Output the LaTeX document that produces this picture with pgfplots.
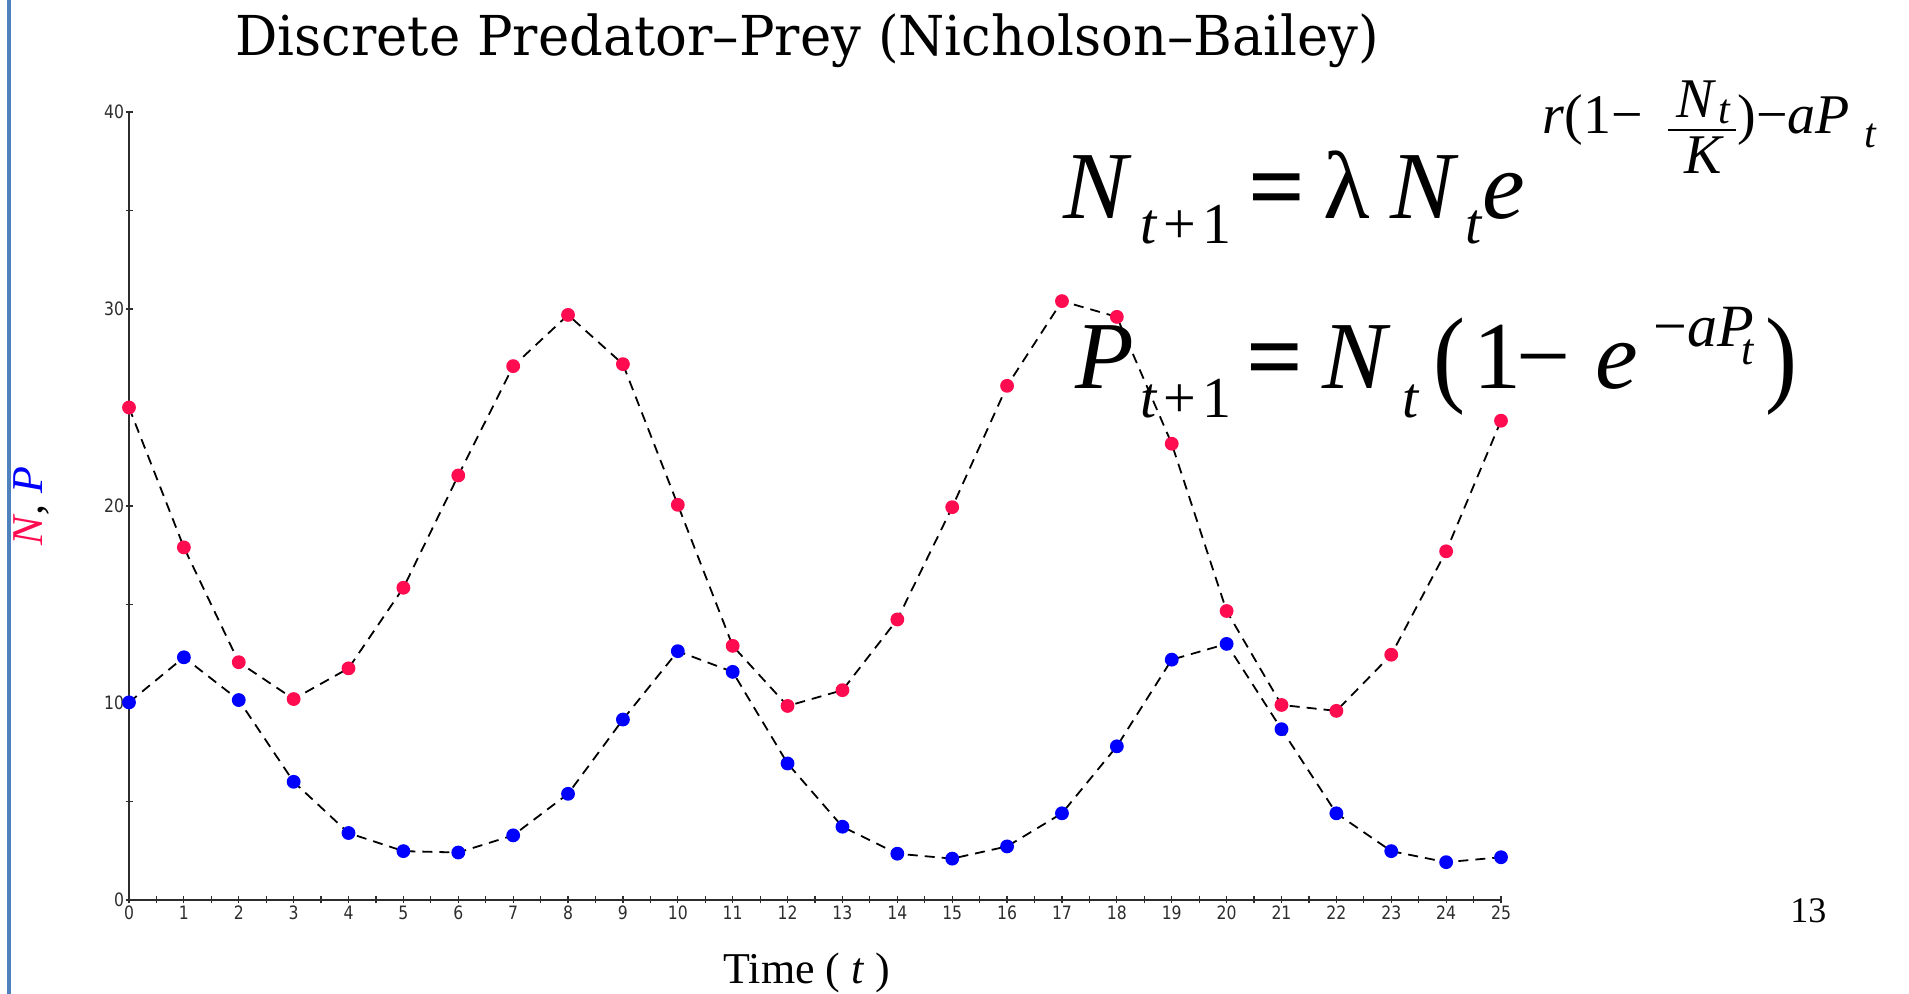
\documentclass[border=0pt]{standalone}
\usepackage{graphicx}
\usepackage{pgfplots}
\pgfplotsset{compat=1.18}
\usepackage{fontspec}
\setmainfont{Liberation Serif}
\newfontfamily\dejavu{DejaVu Sans}
\newfontfamily\titlefont{DejaVu Serif}

\definecolor{preyred}{RGB}{255,12,80}
\definecolor{predblue}{RGB}{0,0,255}
\definecolor{axisgray}{RGB}{45,45,45}
\definecolor{slideblue}{RGB}{79,129,189}
\newcommand\fs[1]{\fontsize{#1}{#1}\selectfont}

\begin{document}
\begin{tikzpicture}
\useasboundingbox (0pt,0pt) rectangle (954.5pt,497pt);
\fill[slideblue] (3.5pt,0pt) rectangle (5.5pt,497pt);

\begin{axis}[
  at={(64.5pt,47pt)}, anchor=south west,
  scale only axis, width=686pt, height=394pt,
  xmin=0, xmax=25, ymin=0, ymax=40,
  axis lines=left,
  axis line style={-, axisgray, line width=0.7pt},
  xtick={0,1,...,25}, minor xtick={0.5,1.5,...,24.5},
  ytick={0,10,...,40}, minor ytick={5,15,...,35},
  tick align=center,
  major tick length=3.5pt, minor tick length=3.5pt,
  every tick/.style={axisgray, line width=0.6pt},
  every minor tick/.style={axisgray, line width=0.6pt},
  ticklabel style={font=\dejavu\fs{9.2}, text=axisgray},
  /pgf/number format/assume math mode=true,
  xticklabel={\scalebox{0.85}[1]{\pgfmathprintnumber{\tick}}},
  yticklabel={\scalebox{0.85}[1]{\pgfmathprintnumber{\tick}}},
  xticklabel style={inner sep=0.5pt, yshift=-0.5pt},
  yticklabel style={inner sep=0.5pt},
  clip=false,
]
% prey N
\addplot[black, dash pattern=on 5pt off 3.5pt, line width=0.9pt,
  mark=*, mark size=3pt, mark options={solid, draw=preyred, fill=preyred}]
  coordinates {
  (0,25.0) (1,17.9) (2,12.07) (3,10.2) (4,11.76) (5,15.85) (6,21.55)
  (7,27.1) (8,29.7) (9,27.2) (10,20.06) (11,12.9) (12,9.85) (13,10.65)
  (14,14.24) (15,19.94) (16,26.1) (17,30.4) (18,29.6) (19,23.16)
  (20,14.67) (21,9.9) (22,9.6) (23,12.45) (24,17.7) (25,24.33)
  };
% predator P
\addplot[black, dash pattern=on 5pt off 3.5pt, line width=0.9pt,
  mark=*, mark size=3pt, mark options={solid, draw=predblue, fill=predblue}]
  coordinates {
  (0,10.03) (1,12.32) (2,10.15) (3,6.0) (4,3.4) (5,2.48) (6,2.41)
  (7,3.28) (8,5.39) (9,9.16) (10,12.63) (11,11.58) (12,6.93) (13,3.72)
  (14,2.35) (15,2.1) (16,2.72) (17,4.4) (18,7.8) (19,12.2) (20,13.0)
  (21,8.67) (22,4.4) (23,2.48) (24,1.92) (25,2.17)
  };
\end{axis}

% title and axis labels
\node[anchor=base west, inner sep=0pt] at (117.5pt,469pt)
  {\resizebox{572pt}{\height}{\titlefont\fs{27.5}Discrete Predator–Prey (Nicholson–Bailey)}};
\node[anchor=base, inner sep=0pt] at (403.5pt,5pt) {\fs{22}Time ( \textit{t} )};
\node[rotate=90, inner sep=0pt] at (15.5pt,244pt)
  {\fs{22}\itshape\textcolor{preyred}{N}, \textcolor{predblue}{P}};
\node[anchor=base west, inner sep=0pt] at (895pt,35.5pt) {\fs{18}13};

% N_{t+1} = lambda N_t e^{r(1-N_t/K)-aP_t}
\begin{scope}[every node/.style={anchor=base west, inner sep=0pt}]
\node[font=\fs{48}\itshape] at (531.5pt,387.5pt) {N};
\node[font=\fs{29}] at (570pt,375pt) {\textit{t}\hspace{3pt}+\hspace{3pt}1};
\node[font=\fs{50}\bfseries] at (624pt,386.5pt) {=};
\node[font=\fs{48}] at (661.5pt,387.5pt) {λ};
\node[font=\fs{48}\itshape] at (695pt,387.5pt) {N};
\node[font=\fs{29}\itshape] at (732.5pt,375pt) {t};
\node[font=\fs{48}\itshape] at (741pt,387.5pt) {e};
\node[font=\fs{28}] at (771pt,430pt) {\textit{r}(1−};
\node[font=\fs{28}\itshape] at (838pt,438pt) {N};
\node[font=\fs{21}\itshape] at (859pt,435pt) {t};
\draw[line width=1.2pt] (834pt,432pt) -- (868pt,432pt);
\node[font=\fs{28}\itshape] at (842pt,410pt) {K};
\node[font=\fs{28}] at (868.5pt,430pt) {)−\textit{aP}};
\node[font=\fs{21}\itshape] at (932pt,423pt) {t};

% P_{t+1} = N_t (1 - e^{-aP_t})
\node[font=\fs{48}\itshape] at (537.5pt,302.5pt) {P};
\node[font=\fs{29}] at (570pt,288pt) {\textit{t}\hspace{3pt}+\hspace{3pt}1};
\node[font=\fs{50}\bfseries] at (623pt,301.5pt) {=};
\node[font=\fs{48}\itshape] at (661pt,302.5pt) {N};
\node[font=\fs{29}\itshape] at (701pt,288pt) {t};
\node[font=\fs{48}] at (716.5pt,300.5pt) {\scalebox{1}[1.12]{(}};
\node[font=\fs{48}] at (736.5pt,302.5pt) {1};
\node[font=\fs{48}] at (758pt,302.5pt) {−};
\node[font=\fs{48}\itshape] at (797.5pt,302.5pt) {e};
\node[font=\fs{30}] at (826.5pt,323.5pt) {−\textit{aP}};
\node[font=\fs{22}\itshape] at (870.5pt,314.5pt) {t};
\node[font=\fs{48}] at (882.5pt,300.5pt) {\scalebox{1}[1.12]{)}};
\end{scope}
\end{tikzpicture}
\end{document}
